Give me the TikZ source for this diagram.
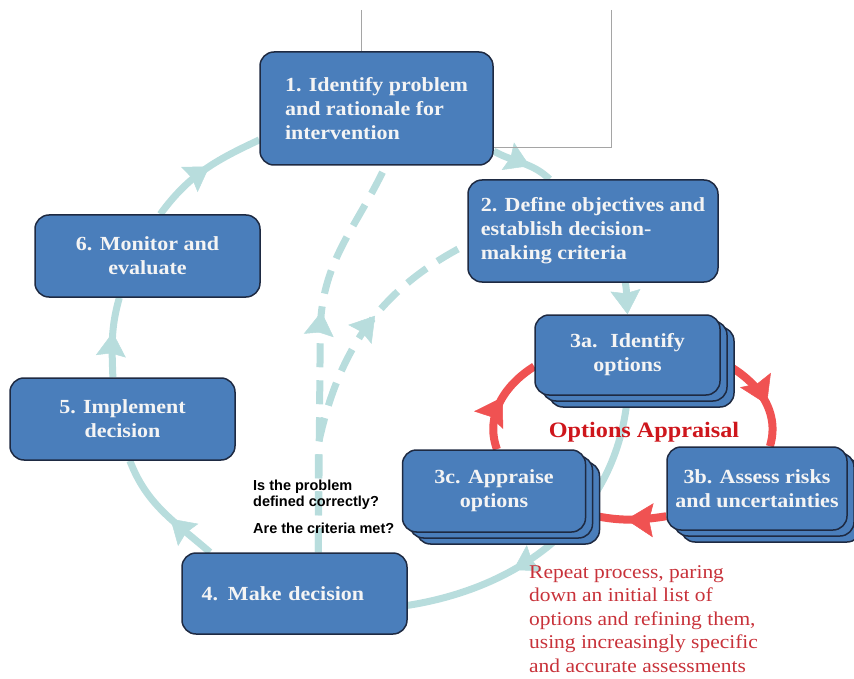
\documentclass[tikz,border=0pt]{standalone}
\usepackage{fontspec}
\newfontfamily\boxfont{Liberation Serif}[FakeStretch=1.1]
\newfontfamily\qfont{Liberation Sans}
\usetikzlibrary{arrows.meta,decorations.markings,shadows}

\definecolor{boxblue}{RGB}{74,126,187}
\definecolor{boxedge}{RGB}{30,42,66}
\definecolor{boxtext}{RGB}{244,244,244}
\definecolor{flow}{RGB}{184,221,221}
\definecolor{ring}{RGB}{240,82,82}
\definecolor{apprtext}{RGB}{206,22,28}
\definecolor{notetext}{RGB}{200,50,58}
\definecolor{frame}{RGB}{165,165,165}

\pgfdeclarelayer{bg}
\pgfsetlayers{bg,main}

\tikzset{
  box/.style={draw=boxedge, line width=1.5pt, fill=boxblue, rounded corners=14pt,
    text=boxtext, font=\boxfont\bfseries\fontsize{20}{24}\selectfont, inner sep=0pt},
  stackbox/.style={box,
    general shadow={shadow xshift=14pt, shadow yshift=-12pt, fill=boxblue, draw=boxedge, line width=1.5pt},
    general shadow={shadow xshift=7pt, shadow yshift=-6pt, fill=boxblue, draw=boxedge, line width=1.5pt}},
  flowline/.style={draw=flow, line width=7pt},
  dashflow/.style={flowline, dash pattern=on 24pt off 13pt},
  ringline/.style={draw=ring, line width=8pt},
  flowtip/.style={postaction={decorate}, decoration={markings,
    mark=at position #1 with {\arrow{Stealth[length=24pt,width=30pt,inset=3pt,line width=0.5pt]}}}},
  ringtip/.style={postaction={decorate}, decoration={markings,
    mark=at position #1 with {\arrow{Stealth[length=27pt,width=34pt,inset=4pt,line width=0.5pt]}}}},
  framerule/.style={draw=frame, line width=1pt},
  question/.style={anchor=north west, align=left, inner sep=0pt,
    font=\qfont\bfseries\fontsize{14.5}{16.5}\selectfont}
}

\begin{document}
\begin{tikzpicture}[x=1pt,y=1pt]
\useasboundingbox (0,0) rectangle (854,-679);

% process steps
\node[box, minimum width=233pt, minimum height=113pt, align=left] (n1) at (376.5,-108.5)
  {1. Identify problem\\and rationale for\\intervention};
\node[box, minimum width=250pt, minimum height=102pt, align=left] (n2) at (593,-231)
  {2. Define objectives and\\establish decision-\\making criteria};
\node[box, minimum width=225pt, minimum height=82pt, align=center] (n6) at (147.5,-256)
  {6. Monitor and\\evaluate};
\node[box, minimum width=225pt, minimum height=82pt, align=center] (n5) at (122.5,-419)
  {5. Implement\\decision};
\node[box, minimum width=225pt, minimum height=81pt, text width=186pt, align=left] (n4) at (294.5,-593.5)
  {4. Make decision};

% options appraisal sub-steps
\node[stackbox, minimum width=185pt, minimum height=80pt, align=center] (n3a) at (627.5,-355)
  {3a.~ Identify\\options};
\node[stackbox, minimum width=180pt, minimum height=83pt, align=center] (n3b) at (757,-488.5)
  {3b. Assess risks\\and uncertainties};
\node[stackbox, minimum width=183pt, minimum height=82pt, align=center] (n3c) at (494,-491)
  {3c. Appraise\\options};

% labels
\node[anchor=base, inner sep=0pt, text=apprtext, font=\boxfont\bfseries\fontsize{22}{26}\selectfont]
  (appr) at (644,-437) {Options Appraisal};
\node[anchor=north west, align=left, inner sep=0pt, text=notetext,
  font=\boxfont\fontsize{19.5}{23.5}\selectfont] (note) at (529,-565)
  {Repeat process, paring\\down an initial list of\\options and refining them,\\using increasingly specific\\and accurate assessments};
\node[question] (q1) at (253,-479.5) {Is the problem\\defined correctly?};
\node[question] (q2) at (253,-522.5) {Are the criteria met?};

% frame lines around the top step
\coordinate (frameL) at (361,-10);
\coordinate (frameR) at (611,-10);
\draw[framerule] (frameL) -- (frameL |- n1.north);
\draw[framerule] (frameR) |- (n1.east |- 0,-148);

\begin{pgfonlayer}{bg}
  % main decision cycle
  \draw[flowline, flowtip=0.62] (n1.-20) to[out=-29,in=136] (n2.130);
  \draw[flowline, -{Stealth[length=24pt,width=30pt,inset=3pt,line width=0.5pt]}]
    (n2.-58) to[out=-80,in=95] (n3a.north);
  \draw[flowline, flowtip=0.66] (n3a.south) to[out=-95,in=9] (n4.-6);
  \draw[flowline, flowtip=0.42] (n4.154) to[out=139,in=-69] (n5.-80);
  \draw[flowline, flowtip=0.56] (n5.103) to[out=92,in=-106] (n6.236);
  \draw[flowline, flowtip=0.55] (n6.73) to[out=54,in=205] (n1.195);

  % feedback checks
  \draw[dashflow, flowtip=0.6] (n4.60) -- ++(2,225) to[out=88,in=-115] (n1.-81);
  \draw[dashflow, flowtip=0.68] (n4.60) -- ++(0,108) to[out=78,in=207] (n2.186);

  % options appraisal ring
  \draw[ringline, ringtip=0.55] (n3c.86) to[out=110,in=212] (n3a.187);
  \draw[ringline, ringtip=0.6] (n3a.-4) to[out=-26,in=73] (n3b.73);
  \draw[ringline, ringtip=0.5] (n3b.197) to[out=189,in=-13] (n3c.-14);
\end{pgfonlayer}
\end{tikzpicture}
\end{document}
